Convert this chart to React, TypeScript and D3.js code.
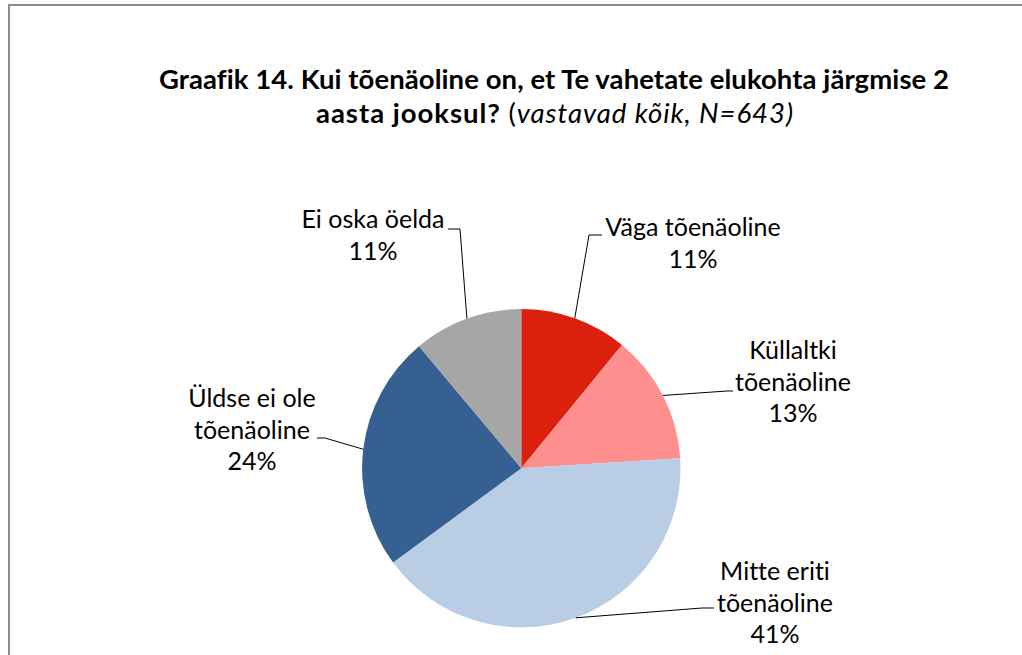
import React from "react";
import * as d3 from "d3";

const categories = [
  "Väga tõenäoline",
  "Küllaltki tõenäoline",
  "Mitte eriti tõenäoline",
  "Üldse ei ole tõenäoline",
  "Ei oska öelda",
];
const values = [10.9, 13.1, 40.9, 24.0, 11.1];
const labelLines = [
  ["Väga tõenäoline"],
  ["Küllaltki", "tõenäoline"],
  ["Mitte eriti", "tõenäoline"],
  ["Üldse ei ole", "tõenäoline"],
  ["Ei oska öelda"],
];
const colors = ["#DC200E", "#FF8F8F", "#B9CDE5", "#376092", "#A6A6A6"];

const titleLine1 = "Graafik 14. Kui tõenäoline on, et Te vahetate elukohta järgmise 2";
const titleLine2Bold = "aasta jooksul? ";
const titleLine2Note = "vastavad kõik, N=643)";

// layout (label placement) — separate from data
const W = 1022;
const H = 655;
const cx = 521.3;
const cy = 468.2;
const R = 159.2;
const lineH = 31.5;
const labelLayout = [
  { x: 693, y: 236, ex: 589, ey: 235, hx: 602 },
  { x: 793, y: 359, ex: 727, ey: 391, hx: 733 },
  { x: 775, y: 580, ex: 702, ey: 608, hx: 714 },
  { x: 252, y: 407, ex: 325, ey: 438, hx: 317 },
  { x: 373, y: 228, ex: 460, ey: 229, hx: 448 },
];

export default function App() {
  const pie = d3
    .pie<number>()
    .sort(null)
    .value((d) => d)
    .startAngle(0)
    .endAngle(2 * Math.PI);
  const arcs = pie(values);
  const arc = d3.arc<d3.PieArcDatum<number>>().innerRadius(0).outerRadius(R);
  const font = "Lato, 'Open Sans', sans-serif";
  const noLig = { fontVariantLigatures: "none" as const };

  return (
    <div style={{ position: "absolute", left: 0, top: 0 }}>
      <svg width={W} height={H} style={{ display: "block" }}>
        <rect x={0} y={0} width={W} height={H} fill="#fff" />
        <rect x={9} y={5} width={1100} height={800} fill="none" stroke="#8C8C8C" strokeWidth={2} />
        <text
          x={554}
          y={89}
          textAnchor="middle"
          fontFamily={font}
          fontWeight="bold"
          fontSize={27.5}
          fill="#000"
          style={noLig}
          textLength={790}
          lengthAdjust="spacing"
        >
          {titleLine1}
        </text>
        <text
          x={554.5}
          y={123}
          textAnchor="middle"
          fontFamily={font}
          fontSize={27.5}
          fill="#000"
          style={noLig}
          textLength={477}
          lengthAdjust="spacing"
        >
          <tspan fontWeight="bold">{titleLine2Bold}</tspan>
          <tspan>(</tspan>
          <tspan fontStyle="italic">{titleLine2Note}</tspan>
        </text>
        <g transform={`translate(${cx},${cy})`}>
          {arcs.map((a, i) => (
            <path key={categories[i]} d={arc(a) || ""} fill={colors[i]} />
          ))}
        </g>
        {arcs.map((a, i) => {
          const mid = (a.startAngle + a.endAngle) / 2;
          const px = cx + R * Math.sin(mid);
          const py = cy - R * Math.cos(mid);
          const L = labelLayout[i];
          const lines = [...labelLines[i], `${Math.round(values[i])}%`];
          return (
            <g key={"lab" + i}>
              <polyline
                points={`${px},${py} ${L.ex},${L.ey} ${L.hx},${L.ey}`}
                fill="none"
                stroke="#000"
                strokeWidth={1}
              />
              <text textAnchor="middle" fontFamily={font} fontSize={25} fill="#000" style={noLig}>
                {lines.map((t, j) => (
                  <tspan key={j} x={L.x} y={L.y + j * lineH}>
                    {t}
                  </tspan>
                ))}
              </text>
            </g>
          );
        })}
      </svg>
    </div>
  );
}
